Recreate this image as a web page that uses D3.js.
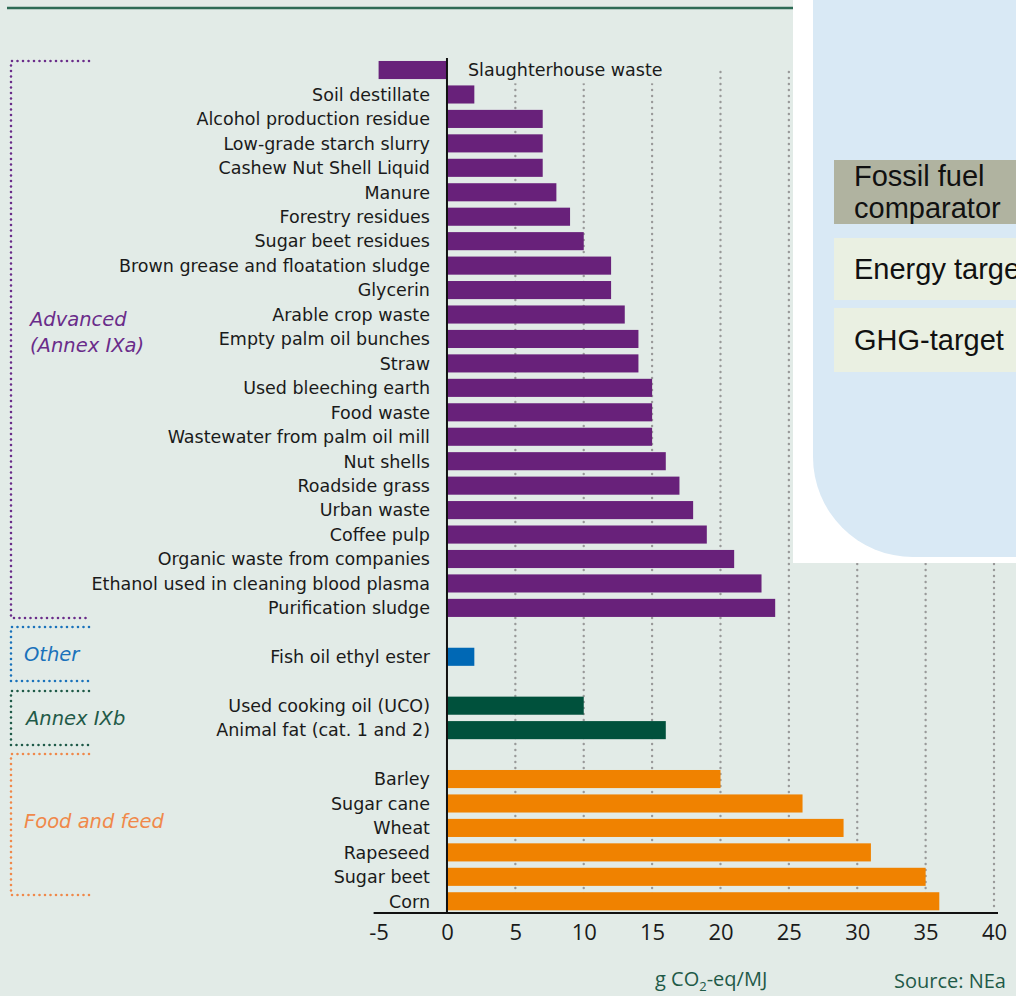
<!DOCTYPE html>
<html>
<head>
<meta charset="utf-8">
<script src="https://cdn.jsdelivr.net/npm/d3@7"></script>
<style>
  body { margin: 0; background: #fff; }
  svg { display: block; }
  .lbl { font-family: "DejaVu Sans", Verdana, sans-serif; font-size: 17.5px; fill: #1a1a1a; }
  .grp { font-family: "DejaVu Sans", Verdana, sans-serif; font-size: 19.5px; font-style: italic; }
  .tick text { font-family: "Open Sans", sans-serif; font-size: 22px; fill: #1a1a1a; }
  .note { font-family: "Open Sans", sans-serif; font-size: 20px; fill: #1f5a48; }
  .legend text { font-family: "Liberation Sans", Arial, sans-serif; font-size: 29px; fill: #111; }
</style>
</head>
<body>
<script>
// emissions by feedstock, g CO2-eq/MJ
var advanced = ["Slaughterhouse waste", "Soil destillate", "Alcohol production residue",
  "Low-grade starch slurry", "Cashew Nut Shell Liquid", "Manure", "Forestry residues",
  "Sugar beet residues", "Brown grease and floatation sludge", "Glycerin", "Arable crop waste",
  "Empty palm oil bunches", "Straw", "Used bleeching earth", "Food waste",
  "Wastewater from palm oil mill", "Nut shells", "Roadside grass", "Urban waste",
  "Coffee pulp", "Organic waste from companies", "Ethanol used in cleaning blood plasma",
  "Purification sludge"];
var advancedValues = [-5, 2, 7, 7, 7, 8, 9, 10, 12, 12, 13, 14, 14, 15, 15, 15, 16, 17, 18, 19, 21, 23, 24];

var other = ["Fish oil ethyl ester"];
var otherValues = [2];

var annexB = ["Used cooking oil (UCO)", "Animal fat (cat. 1 and 2)"];
var annexBValues = [10, 16];

var food = ["Barley", "Sugar cane", "Wheat", "Rapeseed", "Sugar beet", "Corn"];
var foodValues = [20, 26, 29, 31, 35, 36];

var xTicks = [-5, 0, 5, 10, 15, 20, 25, 30, 35, 40];

var legendItems = [["Fossil fuel", "comparator"], ["Energy target"], ["GHG-target"]];

// brackets: top / bottom of the dotted outline, label x
var groups = [
  {name: ["Advanced", "(Annex IXa)"], items: advanced, values: advancedValues,
   bar: "#68217a", text: "#6a2c8a", top: 61, bot: 618, lx: 30, ly: -8},
  {name: ["Other"], items: other, values: otherValues,
   bar: "#0068b5", text: "#1a72bb", top: 627, bot: 681, lx: 24, ly: 0},
  {name: ["Annex IXb"], items: annexB, values: annexBValues,
   bar: "#00513c", text: "#1f5a48", top: 691, bot: 745, lx: 26, ly: 0},
  {name: ["Food and feed"], items: food, values: foodValues,
   bar: "#f08200", text: "#f0884a", top: 754, bot: 895, lx: 24, ly: -4}
];

var width = 1016,
    height = 996,
    bg = "#e2ebe7";

var svg = d3.select("body").append("svg")
    .attr("width", width)
    .attr("height", height);

svg.append("rect")
    .attr("width", width)
    .attr("height", height)
    .attr("fill", bg);

svg.append("line")
    .attr("x1", 7).attr("x2", 793)
    .attr("y1", 8).attr("y2", 8)
    .attr("stroke", "#2d6b55")
    .attr("stroke-width", 2.5);

// rows, with one empty slot between groups
var rows = [], keys = [];
groups.forEach(function(g, gi) {
  g.items.forEach(function(d, i) {
    rows.push({name: d, value: g.values[i], group: g});
    keys.push(d);
  });
  if (gi < groups.length - 1) keys.push("gap" + gi);
});

var x = d3.scaleLinear()
    .domain([-5, 40])
    .range([378.6, 994]);

var y = d3.scaleBand()
    .domain(keys)
    .range([57.8, 913.5])
    .paddingInner(0.26)
    .paddingOuter(0.13);

// dotted gridlines
svg.append("g").selectAll("line")
    .data(xTicks.filter(function(d) { return d > 0; }))
  .enter().append("line")
    .attr("x1", function(d) { return x(d); })
    .attr("x2", function(d) { return x(d); })
    .attr("y1", 72)
    .attr("y2", 911)
    .attr("stroke", "#999999")
    .attr("stroke-width", 2.4)
    .attr("stroke-linecap", "round")
    .attr("stroke-dasharray", "0 6");

svg.append("g").selectAll("rect")
    .data(rows)
  .enter().append("rect")
    .attr("x", function(d) { return x(Math.min(0, d.value)); })
    .attr("width", function(d) { return Math.abs(x(d.value) - x(0)); })
    .attr("y", function(d) { return y(d.name); })
    .attr("height", y.bandwidth())
    .attr("fill", function(d) { return d.group.bar; });

// category labels: left of the axis, or right of it for negative bars
var labels = svg.append("g").selectAll("g")
    .data(rows)
  .enter().append("g");

labels.each(function(d) {
  var gl = d3.select(this);
  var neg = d.value < 0;
  var t = gl.append("text")
      .attr("class", "lbl")
      .attr("x", neg ? x(0) + 21 : x(0) - 17)
      .attr("y", y(d.name) + y.bandwidth() / 2)
      .attr("dy", "0.36em")
      .attr("text-anchor", neg ? "start" : "end")
      .text(d.name);
  if (neg) {
    var b = t.node().getBBox();
    gl.insert("rect", "text")
        .attr("x", b.x - 4).attr("y", b.y)
        .attr("width", b.width + 8).attr("height", b.height + 3)
        .attr("fill", bg);
  }
});

// axes
svg.append("line")
    .attr("x1", x(0)).attr("x2", x(0))
    .attr("y1", 58).attr("y2", 913)
    .attr("stroke", "#111")
    .attr("stroke-width", 2);

var xAxis = svg.append("g")
    .attr("transform", "translate(0,913)")
    .call(d3.axisBottom(x).tickValues(xTicks).tickSize(0).tickPadding(11)
      .tickFormat(function(d) { return String(d).replace("\u2212", "-"); }));
xAxis.select(".domain").remove();
xAxis.append("line")
    .attr("x1", x(-5) - 5).attr("x2", x(40) + 4)
    .attr("stroke", "#111")
    .attr("stroke-width", 2);

var unit = svg.append("text")
    .attr("class", "note")
    .attr("x", 655).attr("y", 986);
unit.append("tspan").text("g CO");
unit.append("tspan").attr("dy", 5).style("font-size", "13px").text("2");
unit.append("tspan").attr("dy", -5).text("-eq/MJ");

svg.append("text")
    .attr("class", "note")
    .attr("x", 894).attr("y", 988)
    .text("Source: NEa");

// group brackets
groups.forEach(function(g) {
  var path = d3.path();
  path.moveTo(89, g.top);
  path.lineTo(11, g.top);
  path.lineTo(11, g.bot);
  path.lineTo(91, g.bot);
  svg.append("path")
      .attr("d", path.toString())
      .attr("fill", "none")
      .attr("stroke", g.text)
      .attr("stroke-width", 2.6)
      .attr("stroke-linecap", "round")
      .attr("stroke-dasharray", "0 5.5");
  var mid = (g.top + g.bot) / 2 + g.ly;
  var t = svg.append("text")
      .attr("class", "grp")
      .attr("fill", g.text)
      .attr("y", mid - (g.name.length - 1) * 13);
  g.name.forEach(function(n, i) {
    t.append("tspan").attr("x", g.lx).attr("dy", i ? 26 : "0.36em").text(n);
  });
});

// legend panel on top
var legend = svg.append("g").attr("class", "legend");
legend.append("rect")
    .attr("x", 793).attr("y", 0)
    .attr("width", 223).attr("height", 563)
    .attr("fill", "#ffffff");
legend.append("rect")
    .attr("x", 813).attr("y", -200)
    .attr("width", 400).attr("height", 757)
    .attr("rx", 100).attr("ry", 100)
    .attr("fill", "#d9e9f5");

var boxes = [
  {fill: "#b0b3a0", y: 160, h: 64},
  {fill: "#eaf0e2", y: 238, h: 62},
  {fill: "#eaf0e2", y: 308, h: 64}
];
legendItems.forEach(function(lines, k) {
  var d = boxes[k];
  legend.append("rect")
      .attr("x", 834).attr("y", d.y)
      .attr("width", 190).attr("height", d.h)
      .attr("fill", d.fill);
  var t = legend.append("text")
      .attr("y", d.y + d.h / 2 - (lines.length - 1) * 16);
  lines.forEach(function(l, i) {
    t.append("tspan").attr("x", 854).attr("dy", i ? 32 : "0.36em").text(l);
  });
});
</script>
</body>
</html>
